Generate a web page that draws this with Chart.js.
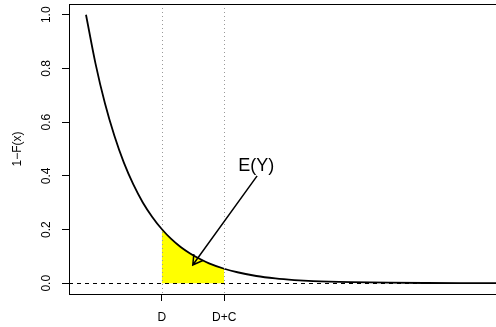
<!DOCTYPE html>
<html>
<head>
<meta charset="utf-8">
<script src="https://cdn.jsdelivr.net/npm/chart.js@4.4.0/dist/chart.umd.min.js"></script>
<style>
html, body { margin: 0; padding: 0; background: #fff; overflow: hidden; }
canvas { display: block; }
</style>
</head>
<body>
<canvas id="chart" width="511" height="327"></canvas>
<script>
// curve (1-F(x))
const xs = [0, 0.25, 0.5, 0.75, 1, 1.25, 1.5, 1.75, 2, 2.25, 2.5, 2.75, 3, 3.25, 3.65, 4, 4.5, 5, 5.5, 6, 7, 8, 9, 10, 11];
const survival = [1.0, 0.819, 0.670, 0.549, 0.449, 0.368, 0.301, 0.247, 0.202, 0.165, 0.135, 0.111, 0.091, 0.074, 0.054, 0.041, 0.027, 0.018, 0.012, 0.008, 0.004, 0.002, 0.001, 0.0005, 0.0002];

const D = 2;
const DC = 3.65;
const xTickValues = [D, DC];
const xTickLabels = ['D', 'D+C'];
const yTickValues = [0, 0.2, 0.4, 0.6, 0.8, 1.0];
const yTickLabels = ['0.0', '0.2', '0.4', '0.6', '0.8', '1.0'];

// annotation, in data units
const arrowFrom = { x: 4.52, y: 0.40 };
const arrowTo = { x: 2.82, y: 0.068 };
const noteAt = { x: 4.5, y: 0.435 };
const noteText = 'E(Y)';

const FONT = '"Liberation Sans", Arial, Helvetica, sans-serif';

const curvePts = xs.map((x, i) => ({ x: x, y: survival[i] }));
const shadePts = curvePts.filter(p => p.x >= D && p.x <= DC);

const extras = {
    id: 'extras',
    afterDraw(chart) {
        const c = chart.ctx;
        const a = chart.chartArea;
        const sx = chart.scales.x, sy = chart.scales.y;
        c.save();

        // dotted verticals at D and D+C
        c.strokeStyle = '#999';
        c.lineWidth = 1;
        c.setLineDash([1, 3]);
        xTickValues.forEach(v => {
            const px = Math.round(sx.getPixelForValue(v)) + 0.5;
            c.beginPath();
            c.moveTo(px, a.top);
            c.lineTo(px, a.bottom);
            c.stroke();
        });

        // dashed horizontal at 0
        c.strokeStyle = '#000';
        c.setLineDash([4, 4]);
        const py0 = Math.round(sy.getPixelForValue(0)) + 0.5;
        c.beginPath();
        c.moveTo(a.left, py0);
        c.lineTo(a.right, py0);
        c.stroke();
        c.setLineDash([]);

        // arrow
        const x1 = sx.getPixelForValue(arrowFrom.x), y1 = sy.getPixelForValue(arrowFrom.y);
        const x2 = sx.getPixelForValue(arrowTo.x), y2 = sy.getPixelForValue(arrowTo.y);
        const ang = Math.atan2(y2 - y1, x2 - x1);
        const head = 11;
        c.lineWidth = 1.5;
        c.beginPath();
        c.moveTo(x1, y1);
        c.lineTo(x2, y2);
        c.moveTo(x2 - head * Math.cos(ang - Math.PI / 6), y2 - head * Math.sin(ang - Math.PI / 6));
        c.lineTo(x2, y2);
        c.lineTo(x2 - head * Math.cos(ang + Math.PI / 6), y2 - head * Math.sin(ang + Math.PI / 6));
        c.stroke();

        // label
        c.fillStyle = '#000';
        c.font = '18px ' + FONT;
        c.textAlign = 'center';
        c.textBaseline = 'middle';
        c.fillText(noteText, sx.getPixelForValue(noteAt.x), sy.getPixelForValue(noteAt.y));

        // rotated y tick labels, R style
        c.font = '12px ' + FONT;
        yTickValues.forEach((v, i) => {
            c.save();
            c.translate(47, sy.getPixelForValue(v));
            c.rotate(-Math.PI / 2);
            c.fillText(yTickLabels[i], 0, 0);
            c.restore();
        });

        // box
        c.lineWidth = 1;
        c.strokeRect(a.left + 0.5, a.top + 0.5, a.right - a.left, a.bottom - a.top);
        c.restore();
    }
};

new Chart(document.getElementById('chart'), {
    type: 'line',
    data: {
        datasets: [
            {
                data: curvePts,
                borderColor: '#000',
                borderWidth: 1.8,
                pointRadius: 0,
                fill: false,
                cubicInterpolationMode: 'monotone'
            },
            {
                data: shadePts,
                borderColor: 'rgba(0,0,0,0)',
                borderWidth: 0,
                backgroundColor: '#ffff00',
                pointRadius: 0,
                fill: 'origin',
                cubicInterpolationMode: 'monotone'
            }
        ]
    },
    options: {
        responsive: false,
        animation: false,
        devicePixelRatio: 1,
        layout: { padding: { top: 4, right: 1, left: 0, bottom: 0 } },
        plugins: { legend: { display: false }, tooltip: { enabled: false } },
        scales: {
            x: {
                type: 'linear',
                min: -0.449,
                max: 11.2,
                afterBuildTicks: s => { s.ticks = xTickValues.map(v => ({ value: v })); },
                afterFit: s => { s.height = 33; },
                ticks: {
                    autoSkip: false,
                    maxRotation: 0,
                    padding: 9,
                    color: '#000',
                    font: { family: FONT, size: 12 },
                    callback: (v, i) => xTickLabels[i]
                },
                grid: { drawOnChartArea: false, drawTicks: true, tickLength: 7, color: '#000' },
                border: { display: false }
            },
            y: {
                type: 'linear',
                min: -0.04,
                max: 1.04,
                afterBuildTicks: s => { s.ticks = yTickValues.map(v => ({ value: v })); },
                afterFit: s => { s.width = 69; },
                ticks: { display: false },
                grid: { drawOnChartArea: false, drawTicks: true, tickLength: 7, color: '#000' },
                border: { display: false },
                title: {
                    display: true,
                    text: '1\u2212F(x)',
                    color: '#000',
                    font: { family: FONT, size: 12 },
                    padding: { top: 10, bottom: 0 }
                }
            }
        }
    },
    plugins: [extras]
});
</script>
</body>
</html>
